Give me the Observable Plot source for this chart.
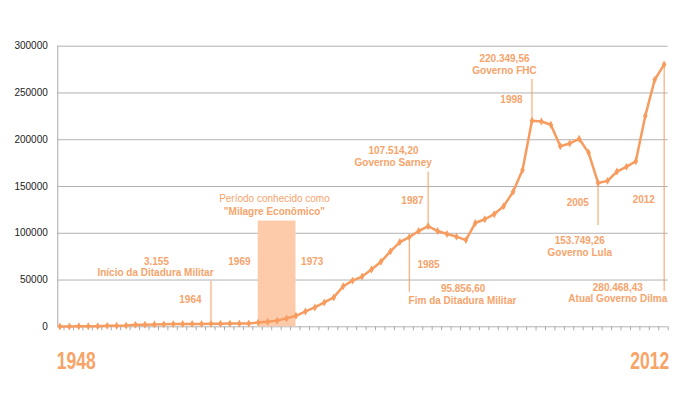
<!DOCTYPE html>
<html><head><meta charset="utf-8">
<script src="https://cdn.jsdelivr.net/npm/d3@7"></script>
<script src="https://cdn.jsdelivr.net/npm/@observablehq/plot@0.6"></script>
<style>body{margin:0;background:#fff;}</style>
</head><body><div id="chart"></div>
<script>
// ---- data ----
const years = [1948,1949,1950,1951,1952,1953,1954,1955,1956,1957,1958,1959,1960,1961,1962,1963,1964,1965,1966,1967,1968,1969,1970,1971,1972,1973,1974,1975,1976,1977,1978,1979,1980,1981,1982,1983,1984,1985,1986,1987,1988,1989,1990,1991,1992,1993,1994,1995,1996,1997,1998,1999,2000,2001,2002,2003,2004,2005,2006,2007,2008,2009,2010,2011,2012];
const values = [300,400,500,600,700,1000,1100,1300,2100,2200,2500,2600,2900,3000,3100,3100,3155,3300,3400,3400,3500,4500,5300,6600,9000,11800,16400,20700,26000,31400,43300,49400,53700,61200,69500,80600,90600,95857,102400,107514,102400,99200,96400,92700,111000,115000,120400,129000,144300,167700,220350,219500,216000,193000,196000,201000,186000,153749,156000,166000,171000,177000,225500,264000,280468];
const yTicks = [0,50000,100000,150000,200000,250000,300000];

// Milagre Econômico period
const periodStart = [1969];
const periodEnd = [1973];
const periodTop = [113000];

// annotation leader lines
const leaderYear = [1964,1985,1987,1998,2005,2012];
const leaderFrom = [3155,95857,107514,220350,153749,280468];
const leaderTo   = [48600,36900,165300,264400,108300,37800];

// annotation labels
const labelText = ["3.155","Início da Ditadura Militar","1964","1969","1973","Período conhecido como","\"Milagre Econômico\"","1985","95.856,60","Fim da Ditadura Militar","107.514,20","Governo Sarney","1987","220.349,56","Governo FHC","1998","2005","153.749,26","Governo Lula","2012","280.468,43","Atual Governo Dilma"];
const labelYear  = [1958.22,1958.12,1961.82,1967.01,1974.72,1970.72,1970.72,1987.04,1990.71,1990.64,1983.33,1983.30,1985.34,1995.09,1995.09,1995.83,2002.85,2003.06,2003.06,2009.84,2007.09,2007.09];
const labelValue = [70000,57500,29200,70000,70000,137200,122500,66600,40600,27400,188700,175300,135000,286500,273300,242700,132100,91500,79100,135800,41700,29500];
const labelBold  = [true,true,true,true,true,false,true,true,true,true,true,true,true,true,true,true,true,true,true,true,true,true];

// big range labels
const bigText = ["1948","2012"];
const bigYear = [1947.67,2012.53];
const bigAnchor = ["start","end"];
const bigValue = [-36600,-36600];

// ---- build tables ----
const series = years.map((y,i)=>({year:y, value:values[i]}));
const period = periodStart.map((s,i)=>({x1:s, x2:periodEnd[i], y1:0, y2:periodTop[i]}));
const leaders = leaderYear.map((y,i)=>({year:y, from:leaderFrom[i], to:leaderTo[i]}));
const labels = labelText.map((t,i)=>({text:t, year:labelYear[i], value:labelValue[i], bold:labelBold[i]}));
const bigs = bigText.map((t,i)=>({text:t, year:bigYear[i], value:bigValue[i], anchor:bigAnchor[i]}));
const xTickPos = years.map(y=>y+0.43);

const orange = "#f79c5e";
const textOrange = "#f7a46c";
const font = "'Liberation Sans', Arial, sans-serif";

const chart = Plot.plot({
  width:683, height:397,
  marginLeft:57.3, marginRight:15.3, marginTop:45.7, marginBottom:70.7,
  style:{fontFamily:font, fontSize:"10px", background:"#fff", overflow:"visible"},
  x:{type:"linear", domain:[1947.77, 2012.43]},
  y:{domain:[0,300000]},
  marks:[
    Plot.gridY(yTicks, {stroke:"#b2b2b2", strokeOpacity:1}),
    Plot.frame({anchor:"left", stroke:"#aaa"}),
    Plot.axisY(yTicks, {tickSize:0, tickPadding:10, tickFormat:d3.format("d"), fill:"#222", label:null, fontSize:10}),
    Plot.axisX(xTickPos, {tickSize:4, tickFormat:()=>"", stroke:"#aaa", label:null}),
    Plot.rect(period, {x1:"x1", x2:"x2", y1:"y1", y2:"y2", fill:"#fdcaaa"}),
    Plot.ruleX(leaders, {x:"year", y1:"from", y2:"to", stroke:orange, strokeWidth:1}),
    Plot.line(series, {x:"year", y:"value", stroke:orange, strokeWidth:2.5}),
    Plot.dot(series, {x:"year", y:"value", r:2.4, fill:orange, symbol:"diamond"}),
    Plot.text(labels.filter(d=>d.bold), {x:"year", y:"value", text:"text", fill:textOrange, fontWeight:"bold", fontSize:10, textAnchor:"middle", lineAnchor:"middle"}),
    Plot.text(labels.filter(d=>!d.bold), {x:"year", y:"value", text:"text", fill:textOrange, fontSize:10, textAnchor:"middle", lineAnchor:"middle"}),
    Plot.text(bigs.filter(d=>d.anchor==="start"), {x:"year", y:"value", text:"text", fill:"#f8a467", fontWeight:"bold", fontSize:24, textAnchor:"start", lineAnchor:"middle"}),
    Plot.text(bigs.filter(d=>d.anchor==="end"), {x:"year", y:"value", text:"text", fill:"#f8a467", fontWeight:"bold", fontSize:24, textAnchor:"end", lineAnchor:"middle"})
  ]
});
document.getElementById("chart").appendChild(chart);
// condense the big range labels
d3.select(chart).selectAll('g[font-size="24"] text').attr("textLength", 39).attr("lengthAdjust", "spacingAndGlyphs");
</script>
</body></html>
